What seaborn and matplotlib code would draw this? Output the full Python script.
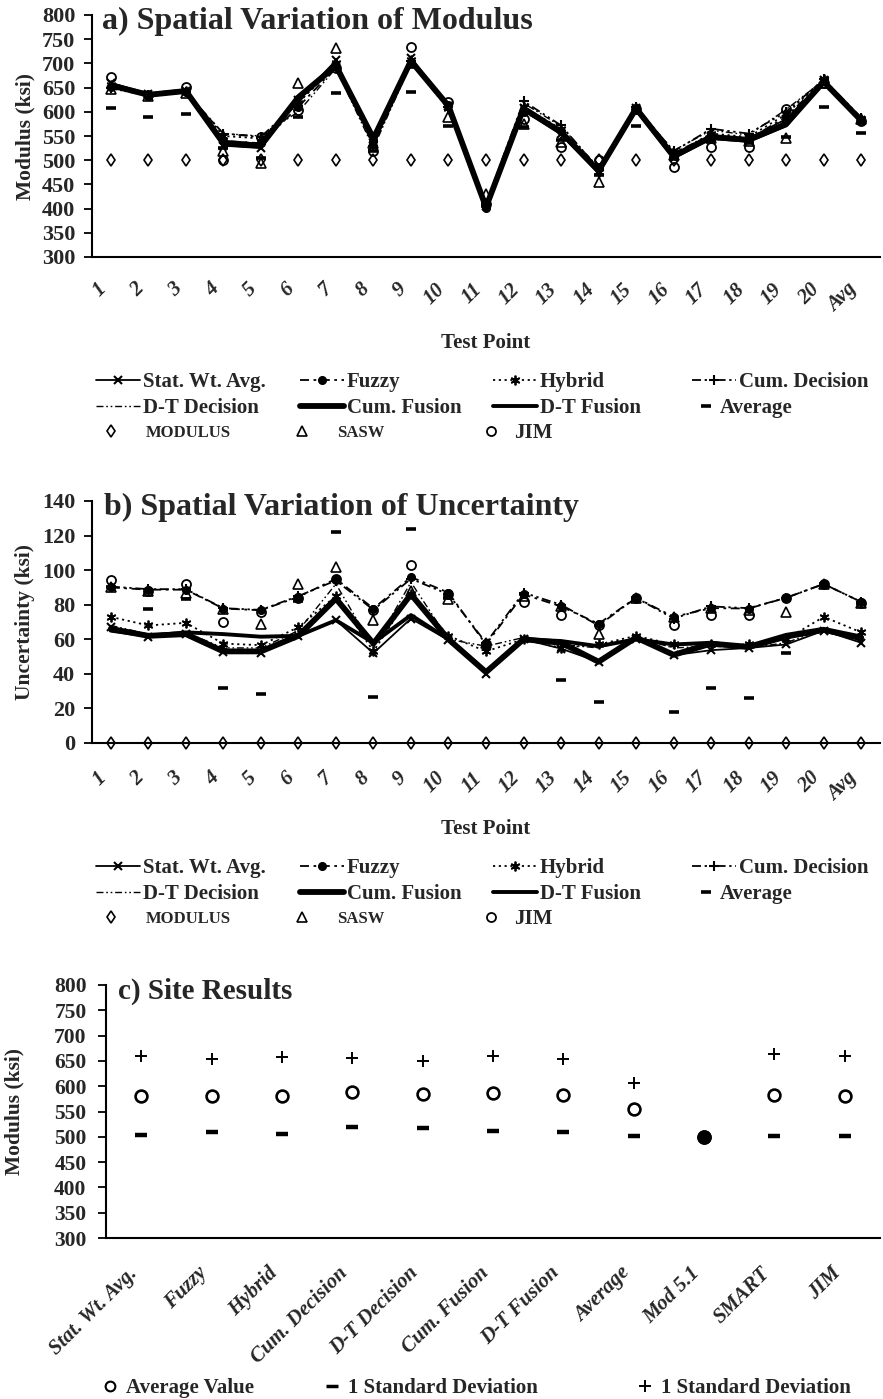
import numpy as np
import pandas as pd
import matplotlib
matplotlib.use("Agg")
import matplotlib.pyplot as plt
from matplotlib.lines import Line2D
import seaborn as sns

# ---------------------------------------------------------------- data
points = [str(i) for i in range(1, 21)] + ["Avg"]

# a) modulus (ksi) at each test point
mod_stat_wt = [660, 636, 643, 530, 525, 625, 706, 530, 712, 612, 405, 608, 555, 478, 608, 505, 548, 545, 585, 665, 583]
mod_fuzzy = [652, 633, 640, 540, 535, 610, 692, 540, 700, 615, 402, 600, 560, 485, 607, 515, 552, 543, 590, 664, 582]
mod_hybrid = [655, 635, 642, 550, 545, 618, 700, 535, 708, 608, 408, 610, 565, 475, 608, 512, 555, 548, 595, 668, 585]
mod_cum_dec = [650, 634, 641, 555, 548, 620, 695, 530, 705, 610, 410, 622, 572, 482, 610, 518, 565, 555, 600, 667, 588]
mod_dt_dec = [648, 633, 640, 555, 550, 600, 690, 525, 700, 605, 410, 618, 570, 485, 608, 520, 562, 552, 605, 665, 586]
mod_cum_fus = [655, 635, 643, 535, 530, 630, 695, 545, 705, 612, 403, 607, 558, 478, 607, 508, 548, 542, 575, 662, 582]
mod_dt_fus = [657, 636, 644, 538, 532, 628, 698, 542, 706, 613, 402, 605, 556, 476, 606, 506, 546, 540, 572, 663, 581]
mod_average = [607, 590, 596, 525, 505, 590, 638, 520, 641, 570, 405, 569, 541, 470, 571, 505, 540, 535, 548, 609, 556]
mod_modulus = [500] * 21
mod_sasw = [648, 632, 638, 520, 495, 659, 732, 535, 700, 590, 430, 575, 538, 455, 605, 510, 545, 540, 545, 660, 585]
mod_jim = [672, 635, 652, 500, 548, 603, 690, 520, 734, 621, 410, 586, 528, 501, 605, 486, 528, 528, 605, 660, 580]

# b) uncertainty (ksi) at each test point
unc_stat_wt = [67, 61.5, 63, 52.7, 52, 62, 71, 52, 72, 59.5, 40, 60, 54.6, 47, 60, 50.8, 53.7, 55, 57, 65, 58]
unc_fuzzy = [90, 88.7, 88.7, 77.8, 76.8, 84.5, 95, 77.8, 96, 87, 57, 86, 79, 69, 84, 73, 78, 77.8, 84, 92, 81.6]
unc_hybrid = [73, 68, 69.5, 57.5, 56.6, 67, 85, 53, 86, 62, 53, 60, 55, 57, 62, 57, 57, 57, 60, 73, 64]
unc_cum_dec = [90.5, 89, 89, 78, 77, 85, 94, 77, 95, 86, 58, 87, 80, 68, 84, 72, 79, 78, 84, 92, 81.6]
unc_dt_dec = [68, 63, 64, 55, 55, 65, 92, 55, 93, 60, 56, 61, 57, 55, 61, 55, 56, 55, 58, 66, 61]
unc_cum_fus = [66, 62, 63, 53, 53, 62, 83.5, 57.5, 86, 60, 41, 60, 58, 47, 61, 51, 57.5, 55.6, 62, 65.5, 61]
unc_dt_fus = [65, 62, 64, 63, 61.5, 62, 71, 58, 74, 60, 41, 60, 59, 56, 60, 57, 58, 55, 61, 65, 60]
unc_average = [90, 77.8, 83.5, 32, 28.6, 82, 122, 26.7, 124, 84, 57, 86, 36.3, 23.8, 84, 18, 32, 26.3, 52, 92, 81]
unc_modulus = [0] * 21
unc_sasw = [90, 88, 87, 77.8, 69, 92.2, 101.8, 71, 88, 83.5, 58, 85, 79, 63.3, 84, 73, 78, 77, 75.8, 92, 81]
unc_jim = [94.5, 88, 91.8, 70, 76, 84, 95, 77, 102.8, 86, 57, 81.6, 73.9, 68, 84, 68, 74, 74, 84, 92, 81]

# c) site results
site_methods = ["Stat. Wt. Avg.", "Fuzzy", "Hybrid", "Cum. Decision", "D-T Decision",
                "Cum. Fusion", "D-T Fusion", "Average", "Mod 5.1", "SMART", "JIM"]
site_avg = [580, 580, 581, 588, 584, 586, 582, 554, 500, 583, 580]
site_minus_sd = [503, 509, 505, 520, 518, 511, 510, 502, 500, 502, 501]
site_plus_sd = [659, 653, 657, 656, 650, 660, 653, 606, 500, 663, 659]
site_filled = ["Mod 5.1"]

series_names = ["Stat. Wt. Avg.", "Fuzzy", "Hybrid", "Cum. Decision", "D-T Decision",
                "Cum. Fusion", "D-T Fusion", "Average", "MODULUS", "SASW", "JIM"]
mod_table = pd.DataFrame(dict(zip(series_names, [
    mod_stat_wt, mod_fuzzy, mod_hybrid, mod_cum_dec, mod_dt_dec, mod_cum_fus,
    mod_dt_fus, mod_average, mod_modulus, mod_sasw, mod_jim])), index=points)
unc_table = pd.DataFrame(dict(zip(series_names, [
    unc_stat_wt, unc_fuzzy, unc_hybrid, unc_cum_dec, unc_dt_dec, unc_cum_fus,
    unc_dt_fus, unc_average, unc_modulus, unc_sasw, unc_jim])), index=points)

# ---------------------------------------------------------------- style
sns.set_style("white")
SERIF = ["Liberation Serif", "DejaVu Serif"]
plt.rcParams["font.family"] = SERIF
plt.rcParams["font.weight"] = "bold"
plt.rcParams["axes.labelweight"] = "bold"

K = "black"
styles = {
    "Stat. Wt. Avg.": dict(linestyle="-", linewidth=1.3, marker="x", markersize=6, markeredgewidth=1.5),
    "Fuzzy": dict(linestyle=(0, (5, 2.5, 1.5, 2.5)), linewidth=1.3, marker="o", markersize=5.5,
                  markerfacecolor=K, markeredgewidth=1),
    "Hybrid": dict(linestyle=(0, (1.2, 2)), linewidth=1.3, marker=(6, 2, 0), markersize=7, markeredgewidth=1.3),
    "Cum. Decision": dict(linestyle=(0, (5, 2, 1.3, 2, 1.3, 2)), linewidth=1.3, marker="+",
                          markersize=7, markeredgewidth=1.5),
    "D-T Decision": dict(linestyle=(0, (5, 2, 1.2, 2, 1.2, 2)), linewidth=1.0),
    "Cum. Fusion": dict(linestyle="-", linewidth=4.2),
    "D-T Fusion": dict(linestyle="-", linewidth=2.8),
    "Average": dict(linestyle="none", marker="_", markersize=6.5, markeredgewidth=2.6),
    "MODULUS": dict(linestyle="none", marker="d", markersize=6.5, markerfacecolor="none", markeredgewidth=1.2),
    "SASW": dict(linestyle="none", marker="^", markersize=6.5, markerfacecolor="none", markeredgewidth=1.2),
    "JIM": dict(linestyle="none", marker="o", markersize=6.5, markerfacecolor="none", markeredgewidth=1.3),
}

W, H = 883, 1399
fig = plt.figure(figsize=(W / 100, H / 100), dpi=100)


def add_axes(left, top, right, bottom):
    return fig.add_axes([left / W, 1 - bottom / H, (right - left) / W, (bottom - top) / H])


def draw_series(ax, table):
    xs = np.arange(len(table.index))
    for name in series_names:
        sns.lineplot(x=xs, y=table[name].to_numpy(), ax=ax, color=K, markeredgecolor=K,
                     sort=False, legend=False, errorbar=None, clip_on=False, **styles[name])


def format_axes(ax, labels, ylim, yticks, ylabel, title, title_x, ytick_size,
                xlab_size, xpad, ylabel_x, title_size):
    n = len(labels)
    ax.set_xlim(-0.5, n - 0.5)
    ax.set_ylim(*ylim)
    ax.set_yticks(yticks)
    ax.set_xticks(np.arange(n))
    ax.set_xticklabels(labels, rotation=45, ha="right", va="top",
                       fontsize=xlab_size, fontstyle="italic", fontweight="bold")
    ax.set_xticks(np.arange(n + 1) - 0.5, minor=True)
    ax.tick_params(axis="x", which="major", length=0, pad=xpad)
    ax.tick_params(axis="x", which="minor", length=6, width=1.3, direction="out", color=K)
    ax.tick_params(axis="y", length=6, width=1.3, pad=6, labelsize=ytick_size,
                   direction="out", color=K, left=True)
    for lab in ax.get_yticklabels():
        lab.set_fontweight("bold")
    sns.despine(ax=ax)
    for side in ("left", "bottom"):
        ax.spines[side].set_linewidth(1.5)
        ax.spines[side].set_color(K)
    ax.set_ylabel(ylabel, fontsize=15.5, fontweight="bold")
    ax.yaxis.set_label_coords(ylabel_x, 0.5)
    ax.yaxis.label.set_va("center")
    ax.text(title_x, 0.944, title, transform=ax.transAxes, fontsize=title_size,
            fontweight="bold", ha="left", va="baseline")


def legend_entry(handle, label, x_start, y_center, hl, tp, size):
    fig.legend([handle], [label], loc="center left",
               bbox_to_anchor=(x_start / W, 1 - y_center / H),
               frameon=False, borderpad=0, borderaxespad=0,
               handlelength=hl, handletextpad=tp, numpoints=1,
               prop=dict(family=SERIF, weight="bold", size=size))


def series_legend(row1_y):
    rows = [row1_y, row1_y + 26, row1_y + 51]
    handles = {n: Line2D([], [], color=K, markeredgecolor=K, **styles[n]) for n in series_names}
    cols = [96, 300, 493, 692]
    grid = [["Stat. Wt. Avg.", "Fuzzy", "Hybrid", "Cum. Decision"],
            ["D-T Decision", "Cum. Fusion", "D-T Fusion"]]
    for r, names in enumerate(grid):
        for c, name in enumerate(names):
            legend_entry(handles[name], name, cols[c], rows[r], 2.1, 0.15, 15)
    legend_entry(handles["Average"], "Average", 696, rows[1], 1.0, 0.15, 15)
    legend_entry(handles["MODULUS"], "MODULUS", 103, rows[2], 1.0, 1.55, 12)
    legend_entry(handles["SASW"], "SASW", 294, rows[2], 1.0, 1.6, 12)
    legend_entry(handles["JIM"], "JIM", 481, rows[2], 1.0, 0.58, 15)


# ---------------------------------------------------------------- panel a
ax_a = add_axes(92, 15, 880, 257)
draw_series(ax_a, mod_table)
format_axes(ax_a, points, (300, 800), np.arange(300, 801, 50), "Modulus (ksi)",
            "a) Spatial Variation of Modulus", 0.013, 16, 15, 16, -0.085, 23)
ax_a.set_xlabel("Test Point", fontsize=15, fontweight="bold")
ax_a.xaxis.set_label_coords(0.5, (257 - 343) / 242)
ax_a.xaxis.label.set_va("center")
series_legend(382)

# ---------------------------------------------------------------- panel b
ax_b = add_axes(92, 501, 880, 743)
draw_series(ax_b, unc_table)
format_axes(ax_b, points, (0, 140), np.arange(0, 141, 20), "Uncertainty (ksi)",
            "b) Spatial Variation of Uncertainty", 0.015, 16, 15, 18, -0.085, 23)
ax_b.set_xlabel("Test Point", fontsize=15, fontweight="bold")
ax_b.xaxis.set_label_coords(0.5, (743 - 829) / 242)
ax_b.xaxis.label.set_va("center")
series_legend(382 + 486)

# ---------------------------------------------------------------- panel c
ax_c = add_axes(106, 985, 880, 1238)
xs_c = np.arange(len(site_methods))
site_style_plus = dict(linestyle="none", marker="+", markersize=8, markeredgewidth=1.4)
site_style_minus = dict(linestyle="none", marker="_", markersize=9, markeredgewidth=3.2)
site_style_avg = dict(linestyle="none", marker="o", markersize=8.5, markerfacecolor="white",
                      markeredgewidth=1.9)
sns.lineplot(x=xs_c, y=site_plus_sd, ax=ax_c, color=K, markeredgecolor=K, sort=False,
             legend=False, errorbar=None, **site_style_plus)
sns.lineplot(x=xs_c, y=site_minus_sd, ax=ax_c, color=K, markeredgecolor=K, sort=False,
             legend=False, errorbar=None, **site_style_minus)
sns.lineplot(x=xs_c, y=site_avg, ax=ax_c, color=K, markeredgecolor=K, sort=False,
             legend=False, errorbar=None, **site_style_avg)
filled_idx = [site_methods.index(m) for m in site_filled]
sns.lineplot(x=xs_c[filled_idx], y=np.array(site_avg)[filled_idx], ax=ax_c, color=K,
             markeredgecolor=K, sort=False, legend=False, errorbar=None, linestyle="none",
             marker="o", markersize=9.5, markerfacecolor=K, markeredgewidth=1)
format_axes(ax_c, site_methods, (300, 800), np.arange(300, 801, 50), "Modulus (ksi)",
            "c) Site Results", 0.016, 15.5, 15, 18, -0.118, 21)
ax_c.set_xlabel("")
ax_c.tick_params(axis="y", pad=8)

legend_entry(Line2D([], [], color=K, **dict(site_style_avg, markersize=7, markeredgewidth=1.5)),
             "Average Value", 100, 1388, 1.0, 0.25, 15)
legend_entry(Line2D([], [], color=K, **dict(site_style_minus, markersize=8, markeredgewidth=2.5)),
             "1 Standard Deviation", 322, 1388, 1.0, 0.25, 15)
legend_entry(Line2D([], [], color=K, **site_style_plus),
             "1 Standard Deviation", 635, 1388, 1.0, 0.25, 15)

fig.savefig("out.png", dpi=100, facecolor="white")
